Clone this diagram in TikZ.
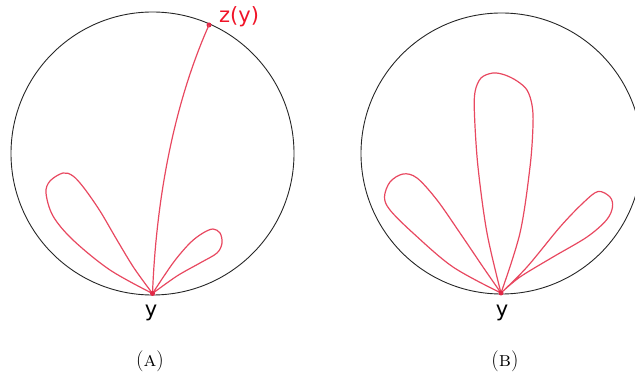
\documentclass[tikz,border=0pt]{standalone}
\usepackage{fontspec}
\newfontfamily\lblfont{DejaVu Sans}
\definecolor{lobered}{RGB}{232,72,96}
\definecolor{dotred}{RGB}{225,40,70}
\definecolor{zred}{RGB}{240,20,40}
\tikzset{
  rim/.style={draw=black!85, line width=0.9pt},
  lobe/.style={draw=lobered, line width=1.2pt, smooth, tension=0.55, line join=round},
  pt/.style={circle, fill=dotred, inner sep=0pt, minimum size=5pt},
  ylabel/.style={font=\lblfont\fontsize{21}{21}\selectfont, inner sep=0pt},
  caption/.style={font=\fontsize{21}{21}\selectfont, inner sep=0pt}
}
\begin{document}
\begin{tikzpicture}[x=1pt,y=-1pt]
\useasboundingbox (0,0) rectangle (635,387);
\begin{scope}
\clip (0,0) rectangle (635,387);
% circles
\node[rim, circle, minimum size=283pt, inner sep=0pt] (cA) at (152.5,153.5) {};
\node[rim, circle, minimum size=281pt, inner sep=0pt] (cB) at (501.5,153.5) {};
\end{scope}
% ---- figure A ----
\coordinate (yA) at (152.5,293.5);
\draw[lobe] plot coordinates {(152.5,293.5) (110,270) (73,240) (53,216) (46,193) (50,181) (63,173) (73,176) (84,188) (100,211) (117,240) (134,268) (152.5,293.5)};
\draw[lobe] plot coordinates {(152.5,293.5) (173,263) (190,243) (203,233) (213,229) (220,233) (222,243) (217,253) (200,263) (177,276) (152.5,293.5)};
\node[pt] (ptzA) at (209,25) {};
\draw[draw=lobered, line width=1.2pt] (yA) .. controls (157,180) and (180,90) .. (ptzA.center);
\node[pt] (ptyA) at (yA) {};
\node[ylabel] (lyA) at (151,313) {y};
\node[ylabel, text=zred, anchor=west] (lzA) at (219,17) {z(y)};
\node[caption] (capA) at (150,361) {(\textsc{a})};
% ---- figure B ----
\coordinate (yB) at (501,293);
\draw[lobe] plot coordinates {(501,293) (487,233) (478,167) (474.5,115) (475,92) (481,78) (493,73) (505,75) (517,81) (527,90) (532,105) (533,125) (530,167) (520,233) (501,293)};
\draw[lobe] plot coordinates {(501,293) (453,267) (413,233) (390,210) (384.5,197) (390,182) (403,174) (417,178) (437,200) (460,233) (483,267) (501,293)};
\draw[lobe] plot coordinates {(501,293) (527,267) (560,227) (583,203) (598,191.5) (610,197) (612.5,207) (606.5,220) (587,237) (553,257) (520,277) (501,293)};
\node[pt] (ptyB) at (yB) {};
\node[ylabel] (lyB) at (502,313) {y};
\node[caption] (capB) at (505,361) {(\textsc{b})};
\end{tikzpicture}
\end{document}
